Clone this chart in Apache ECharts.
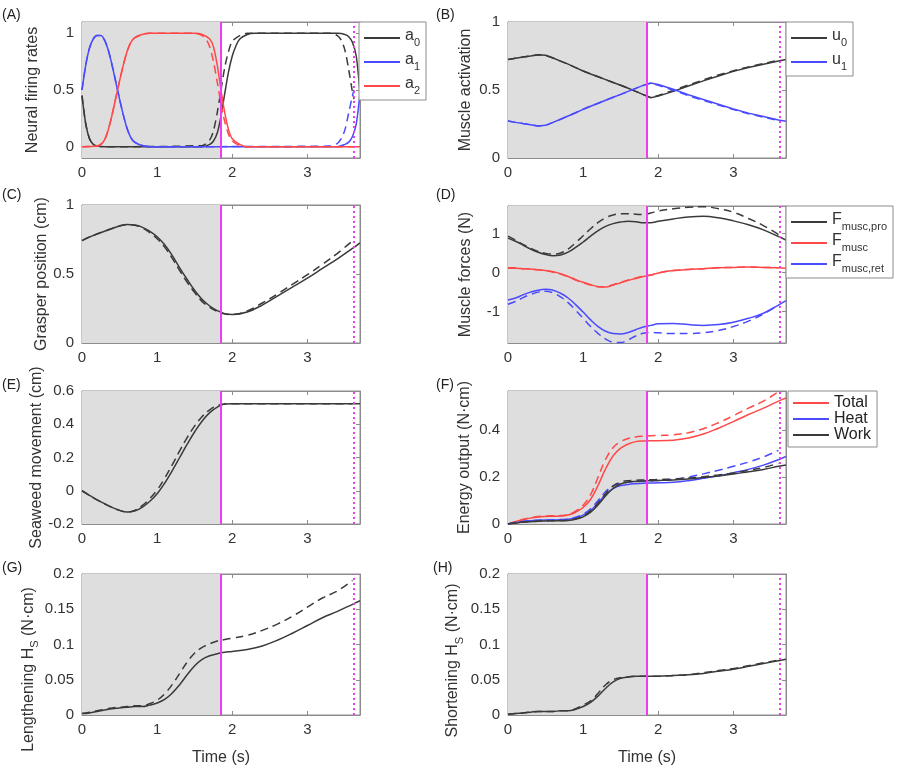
<!DOCTYPE html>
<html>
<head>
    <meta charset="utf-8">
    <script src="https://cdn.jsdelivr.net/npm/echarts@6.0.0/dist/echarts.min.js"></script>
    <style>
        html, body { margin: 0; padding: 0; background: #fff; }
        #main { width: 900px; height: 772px; }
    </style>
</head>
<body>
<div id="main"></div>
<script type="text/javascript">
    // time grid shared by panels B-H (dashed runs stop at 3.6)
    var T = [0, 0.1, 0.2, 0.3, 0.4, 0.5, 0.6, 0.7, 0.8, 0.9, 1.0, 1.1, 1.2, 1.3, 1.4, 1.5, 1.6, 1.7, 1.8, 1.9, 2.0,
        2.2, 2.4, 2.6, 2.8, 3.0, 3.2, 3.4, 3.6, 3.7];
    var T_SWITCH = 1.85, T_END_DASH = 3.62, T_MAX = 3.7;
    var xTicks = [0, 1, 2, 3];

    // (A) neural firing rates, own time points
    var tA0 = [0, 0.05, 0.1, 0.15, 0.2, 0.3, 1.6, 1.7, 1.75, 1.8, 1.85, 1.9, 1.95, 2.0, 2.05, 2.1, 2.2, 2.3, 3.4, 3.5, 3.55, 3.6, 3.65, 3.7];
    var a0 = [0.45, 0.2, 0.07, 0.02, 0.005, 0, 0, 0.02, 0.05, 0.12, 0.27, 0.47, 0.66, 0.8, 0.89, 0.95, 0.99, 1, 1, 0.99, 0.97, 0.92, 0.8, 0.47];
    var tA0d = [0, 0.05, 0.1, 0.15, 0.2, 0.3, 1.6, 1.7, 1.75, 1.8, 1.85, 1.9, 1.95, 2.0, 2.1, 2.2, 3.3, 3.4, 3.45, 3.5, 3.55, 3.6, 3.62];
    var a0d = [0.45, 0.2, 0.07, 0.02, 0.005, 0, 0.01, 0.06, 0.14, 0.3, 0.5, 0.7, 0.84, 0.93, 0.98, 1, 1, 0.98, 0.94, 0.85, 0.68, 0.48, 0.42];
    var tA1 = [0, 0.05, 0.1, 0.15, 0.2, 0.25, 0.3, 0.35, 0.4, 0.45, 0.5, 0.55, 0.6, 0.65, 0.7, 0.8, 0.9, 3.4, 3.5, 3.55, 3.6, 3.65, 3.7];
    var a1 = [0.5, 0.72, 0.87, 0.95, 0.98, 0.98, 0.94, 0.85, 0.72, 0.57, 0.42, 0.28, 0.16, 0.08, 0.04, 0.01, 0, 0, 0.02, 0.04, 0.09, 0.2, 0.47];
    var tA1d = [0, 0.05, 0.1, 0.15, 0.2, 0.25, 0.3, 0.35, 0.4, 0.45, 0.5, 0.55, 0.6, 0.65, 0.7, 0.8, 0.9, 3.3, 3.4, 3.45, 3.5, 3.55, 3.6, 3.62];
    var a1d = [0.5, 0.72, 0.87, 0.95, 0.98, 0.98, 0.94, 0.85, 0.72, 0.57, 0.42, 0.28, 0.16, 0.08, 0.04, 0.01, 0, 0.005, 0.03, 0.07, 0.15, 0.3, 0.45, 0.5];
    var tA2 = [0, 0.2, 0.25, 0.3, 0.35, 0.4, 0.45, 0.5, 0.55, 0.6, 0.65, 0.7, 0.8, 0.9, 1.5, 1.6, 1.7, 1.75, 1.8, 1.85, 1.9, 1.95, 2.0, 2.1, 2.2, 3.7];
    var a2 = [0, 0.005, 0.02, 0.06, 0.15, 0.28, 0.43, 0.58, 0.72, 0.84, 0.92, 0.96, 0.99, 1, 1, 0.99, 0.95, 0.88, 0.72, 0.5, 0.3, 0.15, 0.07, 0.02, 0, 0];
    var tA2d = [0, 0.2, 0.25, 0.3, 0.35, 0.4, 0.45, 0.5, 0.55, 0.6, 0.65, 0.7, 0.8, 0.9, 1.5, 1.6, 1.65, 1.7, 1.75, 1.8, 1.85, 1.9, 1.95, 2.0, 2.1, 2.2, 3.62];
    var a2d = [0, 0.005, 0.02, 0.06, 0.15, 0.28, 0.43, 0.58, 0.72, 0.84, 0.92, 0.96, 0.99, 1, 1, 0.98, 0.95, 0.88, 0.75, 0.57, 0.38, 0.22, 0.11, 0.05, 0.01, 0, 0];

    // (B) muscle activation
    var u0 = [0.724, 0.733, 0.742, 0.750, 0.759, 0.755, 0.735, 0.712, 0.69, 0.665, 0.64, 0.618, 0.597, 0.576, 0.555, 0.535, 0.513, 0.49, 0.466, 0.443, 0.455,
        0.49, 0.53, 0.567, 0.603, 0.637, 0.665, 0.69, 0.714, 0.724];
    var u0d = [0.724, 0.733, 0.742, 0.750, 0.759, 0.755, 0.735, 0.712, 0.69, 0.665, 0.64, 0.618, 0.597, 0.576, 0.555, 0.535, 0.513, 0.49, 0.466, 0.445, 0.46,
        0.497, 0.537, 0.574, 0.61, 0.642, 0.67, 0.695, 0.718];
    var u1 = [0.272, 0.262, 0.253, 0.245, 0.236, 0.24, 0.262, 0.285, 0.309, 0.333, 0.358, 0.381, 0.403, 0.425, 0.447, 0.468, 0.49, 0.512, 0.534, 0.552, 0.54,
        0.505, 0.465, 0.43, 0.395, 0.36, 0.33, 0.305, 0.28, 0.27];
    var u1d = [0.272, 0.262, 0.253, 0.245, 0.236, 0.24, 0.262, 0.285, 0.309, 0.333, 0.358, 0.381, 0.403, 0.425, 0.447, 0.468, 0.49, 0.512, 0.534, 0.55, 0.535,
        0.498, 0.458, 0.423, 0.39, 0.356, 0.326, 0.3, 0.276];

    // (C) grasper position
    var grasp = [0.742, 0.768, 0.79, 0.81, 0.83, 0.848, 0.858, 0.855, 0.84, 0.81, 0.77, 0.712, 0.635, 0.545, 0.46, 0.38, 0.315, 0.268, 0.235, 0.213, 0.207,
        0.225, 0.275, 0.34, 0.405, 0.47, 0.54, 0.61, 0.685, 0.726];
    var graspD = [0.742, 0.768, 0.79, 0.81, 0.83, 0.848, 0.858, 0.853, 0.835, 0.8, 0.755, 0.695, 0.615, 0.525, 0.44, 0.365, 0.3, 0.258, 0.228, 0.21, 0.207,
        0.232, 0.29, 0.355, 0.425, 0.495, 0.57, 0.65, 0.74];

    // (D) muscle forces
    var fPro = [0.88, 0.8, 0.7, 0.6, 0.52, 0.46, 0.43, 0.45, 0.52, 0.64, 0.78, 0.93, 1.07, 1.18, 1.25, 1.29, 1.31, 1.3, 1.27, 1.27, 1.31,
        1.37, 1.42, 1.44, 1.4, 1.32, 1.22, 1.09, 0.92, 0.83];
    var fProD = [0.93, 0.83, 0.72, 0.62, 0.54, 0.49, 0.47, 0.5, 0.6, 0.76, 0.94, 1.12, 1.28, 1.4, 1.47, 1.5, 1.5, 1.49, 1.48, 1.52, 1.57,
        1.63, 1.67, 1.68, 1.63, 1.54, 1.38, 1.2, 0.97];
    var fMusc = [0.11, 0.11, 0.1, 0.09, 0.07, 0.05, 0.02, -0.03, -0.1, -0.18, -0.25, -0.31, -0.36, -0.37, -0.32, -0.26, -0.2, -0.15, -0.1, -0.07, -0.01,
        0.05, 0.08, 0.1, 0.12, 0.13, 0.14, 0.13, 0.12, 0.11];
    var fMuscD = [0.12, 0.12, 0.1, 0.09, 0.07, 0.05, 0.01, -0.04, -0.11, -0.19, -0.26, -0.32, -0.36, -0.36, -0.31, -0.25, -0.19, -0.14, -0.09, -0.06, -0.01,
        0.05, 0.08, 0.1, 0.12, 0.13, 0.14, 0.13, 0.12];
    var fRet = [-0.7, -0.65, -0.57, -0.5, -0.45, -0.43, -0.45, -0.53, -0.65, -0.82, -1.01, -1.21, -1.38, -1.5, -1.56, -1.57, -1.53, -1.46, -1.39, -1.35, -1.31,
        -1.3, -1.33, -1.35, -1.33, -1.27, -1.17, -1.04, -0.83, -0.72];
    var fRetD = [-0.81, -0.74, -0.64, -0.56, -0.5, -0.48, -0.52, -0.62, -0.77, -0.96, -1.17, -1.38, -1.56, -1.7, -1.78, -1.79, -1.72, -1.62, -1.55, -1.53, -1.54,
        -1.56, -1.56, -1.54, -1.48, -1.38, -1.24, -1.06, -0.83];

    // (E) seaweed movement
    var sea = [0, -0.028, -0.055, -0.078, -0.1, -0.118, -0.128, -0.122, -0.1, -0.065, -0.018, 0.045, 0.12, 0.2, 0.28, 0.355, 0.42, 0.47, 0.503, 0.522, 0.524,
        0.524, 0.524, 0.524, 0.524, 0.524, 0.524, 0.524, 0.524, 0.524];
    var seaD = [0, -0.028, -0.055, -0.078, -0.1, -0.118, -0.128, -0.118, -0.09, -0.048, 0.005, 0.075, 0.155, 0.24, 0.32, 0.39, 0.447, 0.487, 0.512, 0.522, 0.524,
        0.524, 0.524, 0.524, 0.524, 0.524, 0.524, 0.524, 0.524];

    // (F) energy output
    var total = [0, 0.01, 0.018, 0.025, 0.03, 0.032, 0.033, 0.034, 0.038, 0.05, 0.07, 0.105, 0.165, 0.235, 0.29, 0.322, 0.34, 0.35, 0.353, 0.354, 0.354,
        0.356, 0.365, 0.382, 0.407, 0.435, 0.465, 0.492, 0.522, 0.535];
    var totalD = [0, 0.011, 0.02, 0.027, 0.032, 0.034, 0.035, 0.036, 0.04, 0.055, 0.08, 0.125, 0.2, 0.275, 0.325, 0.35, 0.363, 0.37, 0.373, 0.375, 0.376,
        0.379, 0.388, 0.405, 0.43, 0.46, 0.492, 0.522, 0.562];
    var heat = [0, 0.006, 0.011, 0.014, 0.016, 0.017, 0.017, 0.018, 0.02, 0.027, 0.038, 0.058, 0.09, 0.125, 0.15, 0.163, 0.168, 0.171, 0.173, 0.174, 0.175,
        0.177, 0.184, 0.194, 0.205, 0.218, 0.232, 0.25, 0.273, 0.287];
    var heatD = [0, 0.006, 0.011, 0.014, 0.016, 0.017, 0.018, 0.019, 0.021, 0.029, 0.042, 0.065, 0.1, 0.138, 0.162, 0.173, 0.178, 0.18, 0.182, 0.183, 0.185,
        0.19, 0.2, 0.213, 0.228, 0.245, 0.263, 0.285, 0.313];
    var work = [0, 0.004, 0.008, 0.01, 0.012, 0.013, 0.014, 0.014, 0.015, 0.02, 0.03, 0.05, 0.082, 0.12, 0.152, 0.17, 0.178, 0.181, 0.183, 0.184, 0.185,
        0.187, 0.191, 0.197, 0.204, 0.212, 0.222, 0.232, 0.245, 0.251];
    var workD = [0, 0.004, 0.008, 0.01, 0.012, 0.013, 0.014, 0.015, 0.016, 0.022, 0.034, 0.056, 0.09, 0.13, 0.162, 0.178, 0.184, 0.186, 0.187, 0.188, 0.189,
        0.191, 0.195, 0.201, 0.208, 0.217, 0.228, 0.24, 0.258];

    // (G) lengthening and (H) shortening heat
    var hLen = [0.002, 0.003, 0.005, 0.007, 0.009, 0.01, 0.011, 0.012, 0.012, 0.014, 0.017, 0.022, 0.031, 0.043, 0.057, 0.07, 0.079, 0.084, 0.087, 0.089, 0.09,
        0.093, 0.098, 0.106, 0.116, 0.127, 0.138, 0.147, 0.157, 0.162];
    var hLenD = [0.002, 0.004, 0.006, 0.008, 0.01, 0.011, 0.012, 0.013, 0.013, 0.016, 0.021, 0.03, 0.043, 0.059, 0.075, 0.088, 0.096, 0.101, 0.105, 0.107, 0.109,
        0.113, 0.12, 0.129, 0.14, 0.153, 0.166, 0.176, 0.191];
    var hShort = [0.001, 0.002, 0.003, 0.004, 0.005, 0.005, 0.005, 0.006, 0.006, 0.008, 0.012, 0.018, 0.027, 0.038, 0.047, 0.052, 0.054, 0.055, 0.055, 0.055, 0.055,
        0.056, 0.057, 0.059, 0.062, 0.065, 0.069, 0.073, 0.077, 0.079];
    var hShortD = [0.001, 0.002, 0.003, 0.004, 0.005, 0.005, 0.005, 0.006, 0.006, 0.009, 0.014, 0.02, 0.031, 0.043, 0.05, 0.053, 0.054, 0.055, 0.055, 0.055, 0.055,
        0.056, 0.057, 0.06, 0.063, 0.066, 0.07, 0.074, 0.078];

    var FONT = '"Liberation Sans", Arial, sans-serif';
    var BLACK = '#3a3a3a', BLUE = '#4a4aff', RED = '#ff4848', MAG = '#ee3cee', SHADE = '#dedede';
    var AXIS = '#8c8c8c', LABEL = '#333';

    var RICH = {
        m: {fontSize: 16, color: LABEL, fontFamily: FONT, verticalAlign: 'bottom', padding: [0, 0, 4, 0]},
        s: {fontSize: 11, color: LABEL, fontFamily: FONT, verticalAlign: 'bottom'},
        // trailing token with extra room so the rotated name sits lower, like the original
        g: {fontSize: 16, color: LABEL, fontFamily: FONT, verticalAlign: 'bottom', padding: [0, 50, 4, 0]},
        h: {fontSize: 16, color: LABEL, fontFamily: FONT, verticalAlign: 'bottom', padding: [0, 32, 4, 0]}
    };
    var SUBS = {
        a0: ['a', '0'], a1: ['a', '1'], a2: ['a', '2'], u0: ['u', '0'], u1: ['u', '1'],
        Fpro: ['F', 'musc,pro'], Fmusc: ['F', 'musc'], Fret: ['F', 'musc,ret']
    };

    function pairs(t, v) {
        return v.map(function (y, i) { return [t[i], y]; });
    }

    function line(name, t, v, color, dashed, smooth) {
        return {
            name: name, data: pairs(t, v), color: color, dashed: dashed, smooth: smooth
        };
    }

    var panels = [
        {label: '(A)', lx: 2, ly: 8, left: 82, top: 22, h: 136, yMin: -0.1, yMax: 1.1, yTicks: [0, 0.5, 1],
            yName: 'Neural firing rates', nameGap: 41,
            lines: [
                line('a0', tA0, a0, BLACK, false, 0.3), line('a0d', tA0d, a0d, BLACK, true, 0.3),
                line('a1', tA1, a1, BLUE, false, 0.3), line('a1d', tA1d, a1d, BLUE, true, 0.3),
                line('a2', tA2, a2, RED, false, 0.3), line('a2d', tA2d, a2d, RED, true, 0.3)
            ],
            legend: {data: ['a0', 'a1', 'a2'], left: 359, top: 22, itemGap: 4, rich: true}},
        {label: '(B)', lx: 436, ly: 8, left: 508, top: 22, h: 136, yMin: 0, yMax: 1, yTicks: [0, 0.5, 1],
            yName: 'Muscle activation', nameGap: 34,
            lines: [
                line('u0', T, u0, BLACK, false, 0), line('u0d', T, u0d, BLACK, true, 0),
                line('u1', T, u1, BLUE, false, 0), line('u1d', T, u1d, BLUE, true, 0)
            ],
            legend: {data: ['u0', 'u1'], left: 786, top: 22, itemGap: 4, rich: true}},
        {label: '(C)', lx: 2, ly: 188, left: 82, top: 205, h: 138, yMin: 0, yMax: 1, yTicks: [0, 0.5, 1],
            yName: 'Grasper position (cm)', nameGap: 31,
            lines: [line('grasp', T, grasp, BLACK, false, 0.4), line('graspD', T, graspD, BLACK, true, 0.4)]},
        {label: '(D)', lx: 436, ly: 188, left: 508, top: 206, h: 137, yMin: -1.8, yMax: 1.7, yTicks: [-1, 0, 1],
            yName: 'Muscle forces (N)', nameGap: 34,
            lines: [
                line('Fpro', T, fPro, BLACK, false, 0.4), line('FproD', T, fProD, BLACK, true, 0.4),
                line('Fmusc', T, fMusc, RED, false, 0.4), line('FmuscD', T, fMuscD, RED, true, 0.4),
                line('Fret', T, fRet, BLUE, false, 0.4), line('FretD', T, fRetD, BLUE, true, 0.4)
            ],
            legend: {data: ['Fpro', 'Fmusc', 'Fret'], left: 786, top: 206, itemGap: 1, rich: true}},
        {label: '(E)', lx: 2, ly: 378, left: 82, top: 391, h: 133, yMin: -0.2, yMax: 0.6, yTicks: [-0.2, 0, 0.2, 0.4, 0.6],
            yName: 'Seaweed movement (cm)', nameGap: 37,
            lines: [line('sea', T, sea, BLACK, false, 0.4), line('seaD', T, seaD, BLACK, true, 0.4)]},
        {label: '(F)', lx: 436, ly: 378, left: 508, top: 391, h: 133, yMin: 0, yMax: 0.565, yTicks: [0, 0.2, 0.4],
            yName: 'Energy output (N·cm)', nameGap: 35,
            lines: [
                line('Total', T, total, RED, false, 0.4), line('TotalD', T, totalD, RED, true, 0.4),
                line('Heat', T, heat, BLUE, false, 0.4), line('HeatD', T, heatD, BLUE, true, 0.4),
                line('Work', T, work, BLACK, false, 0.4), line('WorkD', T, workD, BLACK, true, 0.4)
            ],
            legend: {data: ['Total', 'Heat', 'Work'], left: 788, top: 391, itemGap: 0, rich: false}},
        {label: '(G)', lx: 2, ly: 561, left: 82, top: 574, h: 141, yMin: 0, yMax: 0.2, yTicks: [0, 0.05, 0.1, 0.15, 0.2],
            yName: '{m|Lengthening H}{s|S}{g| (N·cm)}', richName: true, nameGap: 40, xName: 'Time (s)',
            lines: [line('hLen', T, hLen, BLACK, false, 0.4), line('hLenD', T, hLenD, BLACK, true, 0.4)]},
        {label: '(H)', lx: 433, ly: 561, left: 508, top: 574, h: 141, yMin: 0, yMax: 0.2, yTicks: [0, 0.05, 0.1, 0.15, 0.2],
            yName: '{m|Shortening H}{s|S}{h| (N·cm)}', richName: true, nameGap: 43, xName: 'Time (s)',
            lines: [line('hShort', T, hShort, BLACK, false, 0.4), line('hShortD', T, hShortD, BLACK, true, 0.4)]}
    ];

    var option = {
        animation: false,
        backgroundColor: '#fff',
        textStyle: {fontFamily: FONT},
        grid: [], xAxis: [], yAxis: [], series: [], legend: [], graphic: []
    };

    panels.forEach(function (p, i) {
        option.graphic.push({
            type: 'text', left: p.lx, top: p.ly,
            style: {text: p.label, font: '14px ' + FONT, fill: '#222'}
        });
        option.grid.push({
            left: p.left, top: p.top, width: 278, height: p.h,
            show: true, borderColor: AXIS, borderWidth: 1, backgroundColor: 'transparent'
        });
        ['bottom', 'top'].forEach(function (pos) {
            option.xAxis.push({
                type: 'value', gridIndex: i, position: pos, min: 0, max: T_MAX,
                axisLine: {show: true, onZero: false, lineStyle: {color: AXIS}},
                axisTick: {show: true, inside: true, length: 4, customValues: xTicks, lineStyle: {color: AXIS}},
                axisLabel: {show: pos === 'bottom', customValues: xTicks, fontSize: 15, color: LABEL, margin: 7},
                splitLine: {show: false},
                name: pos === 'bottom' && p.xName ? p.xName : '',
                nameLocation: 'middle', nameGap: 35,
                nameTextStyle: {fontSize: 16, color: LABEL}
            });
        });
        ['left', 'right'].forEach(function (pos) {
            option.yAxis.push({
                type: 'value', gridIndex: i, position: pos, min: p.yMin, max: p.yMax,
                axisLine: {show: true, onZero: false, lineStyle: {color: AXIS}},
                axisTick: {show: true, inside: true, length: 4, customValues: p.yTicks, lineStyle: {color: AXIS}},
                axisLabel: {show: pos === 'left', customValues: p.yTicks, fontSize: 15, color: LABEL, margin: 8},
                splitLine: {show: false},
                name: pos === 'left' ? p.yName : '',
                nameLocation: 'middle', nameGap: p.nameGap, nameRotate: 90,
                nameTextStyle: {fontSize: 16, color: LABEL, rich: p.richName ? RICH : undefined}
            });
        });
        // shaded first half and the two magenta markers
        option.series.push({
            type: 'line', xAxisIndex: 2 * i, yAxisIndex: 2 * i, data: [], silent: true, z: 1,
            markArea: {silent: true, itemStyle: {color: SHADE}, data: [[{xAxis: 0}, {xAxis: T_SWITCH}]]},
            markLine: {
                silent: true, symbol: 'none', label: {show: false},
                data: [
                    {xAxis: T_SWITCH, lineStyle: {color: MAG, width: 2, type: 'solid'}},
                    {xAxis: T_END_DASH, lineStyle: {color: MAG, width: 2, type: [2, 3]}}
                ]
            }
        });
        p.lines.forEach(function (l) {
            option.series.push({
                type: 'line', name: l.name, xAxisIndex: 2 * i, yAxisIndex: 2 * i, z: 3,
                data: l.data, showSymbol: false, symbol: 'none', smooth: l.smooth,
                color: l.color,
                lineStyle: {color: l.color, width: 1.5, type: l.dashed ? [8, 5] : 'solid'}
            });
        });
        if (p.legend) {
            var lg = p.legend;
            option.legend.push({
                left: lg.left, top: lg.top, orient: 'vertical', data: lg.data,
                selectedMode: false, backgroundColor: '#fff',
                borderColor: AXIS, borderWidth: 1, borderRadius: 0,
                padding: lg.rich ? [6, 6, 4, 5] : [4, 6, 4, 5], itemGap: lg.itemGap,
                icon: 'rect', itemWidth: 36, itemHeight: 2,
                formatter: lg.rich ? function (name) {
                    var s = SUBS[name];
                    return '{m|' + s[0] + '}{s|' + s[1] + '}';
                } : '{name}',
                textStyle: {fontSize: 16, color: '#222', fontFamily: FONT, rich: lg.rich ? RICH : undefined}
            });
        }
    });

    var myChart = echarts.init(document.getElementById('main'));
    myChart.setOption(option);
</script>
</body>
</html>
